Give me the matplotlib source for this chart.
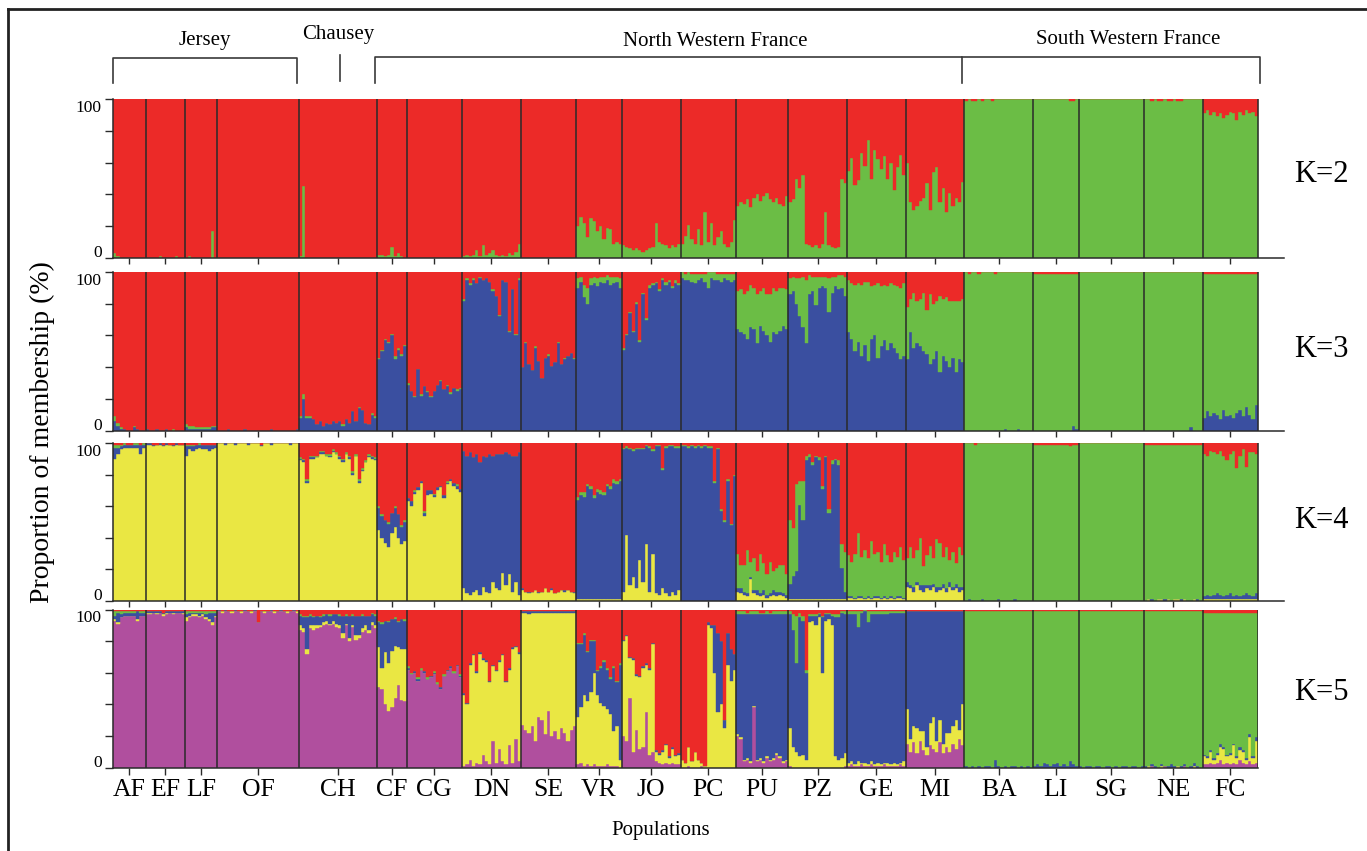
import matplotlib
matplotlib.use("Agg")
import matplotlib.pyplot as plt
import matplotlib.transforms as mtransforms
from matplotlib.lines import Line2D
import numpy as np

plt.rcParams['font.family'] = ['Liberation Serif', 'DejaVu Serif']

# populations, in plotting order, and number of individuals sampled
pops = ['AF', 'EF', 'LF', 'OF', 'CH', 'CF', 'CG', 'DN', 'SE', 'VR', 'JO',
        'PC', 'PU', 'PZ', 'GE', 'MI', 'BA', 'LI', 'SG', 'NE', 'FC']
pop_sizes = [10, 12, 10, 25, 24, 9, 17, 18, 17, 14, 18,
             17, 16, 18, 18, 18, 21, 14, 20, 18, 17]

regions = ['Jersey', 'Chausey', 'North Western France', 'South Western France']
k_labels = ['K=2', 'K=3', 'K=4', 'K=5']

# membership (%) per individual, one row per population.
# clusters listed bottom to top; the red cluster is the remainder to 100.

# ---- K=2 ----
k2_green = [
    [3, 1, 0, 0, 0, 0, 0, 0, 0, 0],  # AF
    [0, 0, 0, 0, 1, 0, 0, 0, 0, 1, 0, 0],  # EF
    [0, 1, 0, 0, 0, 0, 0, 0, 17, 0],  # LF
    [0, 0, 0, 0, 0, 0, 0, 0, 0, 0, 0, 0, 0, 0, 0, 0, 0, 0, 0, 0, 0, 0, 0, 0, 0],  # OF
    [1, 45, 0, 0, 0, 0, 0, 0, 0, 0, 0, 0, 0, 0, 0, 0, 0, 0, 0, 0, 0, 0, 0, 0],  # CH
    [2, 2, 1, 2, 7, 1, 3, 1, 0],  # CF
    [0, 0, 0, 0, 0, 0, 0, 0, 0, 0, 0, 0, 0, 0, 0, 0, 0],  # CG
    [1, 2, 1, 2, 5, 1, 8, 2, 3, 5, 2, 1, 2, 1, 3, 2, 4, 9],  # DN
    [0, 0, 0, 0, 0, 0, 0, 0, 0, 0, 0, 0, 0, 0, 0, 0, 0],  # SE
    [20, 26, 22, 13, 25, 23, 17, 20, 12, 19, 18, 9, 10, 9],  # VR
    [8, 7, 6, 5, 6, 5, 4, 5, 6, 7, 22, 10, 9, 8, 6, 8, 7, 9],  # JO
    [9, 14, 21, 12, 9, 18, 8, 29, 10, 22, 8, 13, 17, 9, 7, 10, 24],  # PC
    [33, 35, 34, 37, 32, 38, 40, 36, 39, 41, 37, 35, 38, 34, 33, 39],  # PU
    [35, 37, 50, 44, 52, 9, 8, 7, 8, 6, 9, 29, 8, 7, 6, 7, 50, 47],  # PZ
    [55, 63, 46, 49, 66, 58, 74, 50, 68, 62, 56, 64, 50, 60, 43, 57, 65, 52],  # GE
    [60, 35, 30, 33, 36, 38, 47, 30, 54, 57, 35, 44, 29, 41, 33, 38, 35, 48],  # MI
    [99, 100, 99, 99, 100, 99, 100, 100, 99, 100, 100, 100, 100, 100, 100, 100, 100, 100, 100, 100, 100],  # BA
    [100, 100, 100, 100, 100, 100, 100, 100, 100, 100, 100, 99, 99, 100],  # LI
    [100, 100, 100, 100, 100, 100, 100, 100, 100, 100, 100, 100, 100, 100, 100, 100, 100, 100, 100, 100],  # SG
    [100, 100, 99, 100, 99, 99, 100, 99, 99, 100, 99, 99, 100, 100, 100, 100, 100, 100],  # NE
    [91, 93, 90, 92, 89, 91, 88, 90, 92, 91, 87, 92, 90, 93, 91, 92, 89],  # FC
]

# ---- K=3 ----
k3_blue = [
    [6, 3, 1, 1, 0, 0, 2, 1, 0, 0],
    [1, 0, 0, 1, 0, 0, 1, 0, 0, 0, 0, 0],
    [2, 1, 1, 1, 1, 1, 1, 1, 2, 2],
    [0, 0, 0, 1, 0, 0, 0, 0, 1, 0, 0, 0, 0, 0, 0, 0, 1, 0, 0, 0, 0, 0, 0, 0, 1],
    [8, 20, 8, 8, 7, 4, 6, 3, 5, 4, 6, 5, 6, 3, 7, 5, 12, 6, 14, 13, 5, 4, 10, 8],
    [45, 50, 57, 55, 60, 45, 51, 47, 53],
    [29, 25, 21, 39, 22, 28, 24, 21, 25, 29, 31, 26, 28, 23, 27, 25, 26],
    [82, 95, 92, 95, 93, 96, 95, 96, 94, 88, 85, 72, 95, 94, 62, 89, 60, 95],
    [40, 55, 42, 38, 52, 44, 33, 46, 47, 41, 43, 55, 42, 45, 47, 49, 45],
    [90, 94, 84, 80, 92, 93, 91, 94, 93, 95, 92, 93, 94, 90],
    [51, 60, 74, 62, 80, 56, 86, 70, 90, 92, 93, 88, 95, 92, 94, 90, 93, 92],
    [96, 95, 95, 94, 93, 95, 96, 94, 90, 96, 95, 95, 94, 96, 95, 94, 95],
    [64, 62, 61, 58, 65, 64, 55, 66, 63, 60, 56, 62, 61, 63, 66, 64],
    [86, 88, 80, 72, 65, 55, 86, 88, 79, 90, 91, 90, 75, 87, 91, 89, 90, 85],
    [62, 58, 50, 56, 47, 54, 44, 58, 60, 46, 53, 57, 51, 55, 52, 49, 45, 47],
    [45, 62, 52, 55, 53, 50, 48, 42, 45, 50, 37, 47, 44, 40, 46, 37, 45, 43],
    [0, 0, 0, 0, 0, 0, 0, 0, 0, 0, 0, 0, 1, 0, 0, 0, 1, 0, 0, 0, 0],
    [0, 0, 0, 0, 0, 0, 0, 0, 0, 0, 0, 0, 3, 1],
    [0, 0, 0, 0, 0, 0, 0, 0, 0, 0, 0, 0, 0, 0, 0, 0, 0, 0, 0, 0],
    [0, 0, 0, 0, 0, 0, 0, 0, 0, 0, 0, 0, 0, 0, 2, 0, 0, 0],
    [8, 12, 9, 11, 10, 7, 13, 9, 10, 8, 11, 13, 9, 15, 10, 7, 16],
]
k3_green = [
    [3, 2, 1, 0, 0, 0, 1, 0, 0, 0],
    [0, 0, 0, 0, 0, 0, 0, 0, 1, 0, 0, 0],
    [2, 2, 2, 1, 1, 1, 1, 1, 1, 1],
    [0, 0, 0, 0, 0, 0, 0, 0, 0, 0, 0, 0, 0, 0, 0, 0, 0, 0, 0, 0, 0, 0, 0, 0, 0],
    [1, 3, 1, 1, 0, 0, 0, 0, 0, 0, 0, 0, 0, 1, 0, 0, 0, 0, 1, 0, 0, 0, 1, 1],
    [1, 1, 1, 1, 1, 2, 1, 1, 1],
    [1, 0, 1, 0, 1, 0, 1, 1, 0, 0, 1, 0, 1, 1, 0, 1, 1],
    [1, 1, 1, 1, 0, 1, 0, 0, 0, 1, 0, 1, 0, 0, 1, 0, 1, 1],
    [0, 1, 0, 0, 1, 0, 0, 0, 1, 0, 0, 1, 0, 1, 0, 0, 1],
    [6, 3, 8, 10, 4, 4, 5, 3, 4, 3, 5, 4, 3, 6],
    [1, 1, 1, 1, 1, 1, 1, 1, 2, 1, 1, 1, 1, 2, 1, 1, 2, 1],
    [4, 4, 5, 5, 6, 4, 3, 5, 10, 4, 5, 4, 5, 3, 4, 5, 4],
    [24, 27, 25, 30, 27, 26, 31, 22, 27, 26, 30, 28, 27, 27, 24, 25],
    [10, 9, 16, 24, 32, 40, 12, 9, 18, 7, 6, 7, 21, 10, 6, 9, 8, 12],
    [33, 35, 42, 37, 45, 40, 50, 33, 32, 47, 38, 35, 40, 38, 40, 42, 45, 46],
    [33, 21, 35, 27, 30, 37, 28, 44, 35, 32, 48, 36, 40, 42, 36, 45, 37, 40],
    [100, 99, 100, 100, 99, 100, 100, 100, 100, 99, 100, 100, 99, 100, 100, 100, 99, 100, 100, 100, 100],
    [99, 99, 99, 99, 99, 99, 99, 99, 99, 99, 99, 99, 96, 98],
    [100, 100, 100, 100, 100, 100, 100, 100, 100, 100, 100, 100, 100, 100, 100, 100, 100, 100, 100, 100],
    [100, 100, 100, 100, 100, 100, 100, 100, 100, 100, 100, 100, 100, 100, 98, 100, 100, 100],
    [91, 87, 90, 88, 89, 92, 86, 90, 89, 91, 88, 86, 90, 84, 89, 92, 83],
]

# ---- K=4 ----
k4_yellow = [
    [90, 93, 96, 97, 97, 97, 97, 97, 93, 97],
    [99, 99, 98, 99, 99, 98, 99, 99, 98, 99, 99, 99],
    [92, 96, 95, 96, 97, 96, 96, 95, 96, 97],
    [100, 100, 99, 100, 100, 99, 100, 100, 100, 99, 100, 100, 100, 98, 100, 100, 99, 100, 100, 100, 100, 100, 99, 100, 100],
    [89, 88, 75, 90, 90, 91, 93, 93, 92, 91, 94, 93, 90, 88, 93, 90, 80, 92, 75, 82, 88, 91, 90, 89],
    [45, 40, 37, 34, 43, 47, 40, 36, 38],
    [63, 60, 68, 70, 75, 54, 67, 68, 66, 70, 72, 65, 74, 76, 73, 71, 69],
    [8, 5, 4, 6, 7, 4, 9, 6, 5, 12, 8, 7, 18, 10, 17, 6, 12, 4],
    [7, 6, 5, 6, 7, 5, 6, 8, 6, 7, 5, 6, 7, 6, 7, 6, 5],
    [1, 1, 1, 1, 1, 1, 1, 1, 1, 1, 1, 1, 1, 1],
    [6, 42, 10, 15, 8, 26, 12, 36, 6, 30, 5, 4, 8, 5, 3, 6, 4, 7],
    [0, 0, 0, 0, 0, 0, 0, 0, 0, 0, 0, 0, 0, 0, 0, 0, 0],
    [6, 5, 4, 3, 14, 5, 4, 3, 4, 2, 3, 4, 3, 4, 3, 2],
    [1, 1, 1, 1, 1, 1, 1, 1, 1, 1, 1, 1, 1, 1, 1, 1, 1, 1],
    [2, 2, 1, 2, 2, 1, 2, 1, 2, 2, 1, 2, 1, 2, 1, 2, 2, 1],
    [9, 8, 6, 10, 7, 6, 8, 7, 9, 6, 7, 8, 6, 9, 7, 8, 6, 7],
    [0, 0, 0, 0, 0, 0, 0, 0, 0, 0, 0, 0, 0, 0, 0, 0, 0, 0, 0, 0, 0],
    [0, 0, 0, 0, 0, 0, 0, 0, 0, 0, 0, 0, 0, 0],
    [0, 0, 0, 0, 0, 0, 0, 0, 0, 0, 0, 0, 0, 0, 0, 0, 0, 0, 0, 0],
    [0, 1, 0, 0, 1, 1, 0, 1, 0, 1, 1, 0, 1, 0, 0, 1, 0, 0],
    [1, 1, 1, 1, 1, 1, 1, 1, 1, 1, 1, 1, 1, 1, 1, 1, 1],
]
k4_blue = [
    [7, 4, 2, 2, 2, 2, 2, 2, 6, 2],
    [1, 1, 1, 0, 1, 1, 1, 0, 1, 1, 0, 0],
    [6, 2, 3, 3, 2, 3, 3, 4, 3, 2],
    [0, 0, 1, 0, 0, 1, 0, 0, 0, 1, 0, 0, 0, 1, 0, 0, 1, 0, 0, 0, 0, 0, 1, 0, 0],
    [1, 1, 1, 1, 1, 0, 1, 1, 0, 1, 1, 0, 1, 1, 0, 1, 1, 0, 1, 1, 0, 1, 1, 1],
    [14, 14, 14, 15, 13, 12, 15, 11, 12],
    [2, 3, 1, 2, 1, 2, 3, 2, 1, 2, 1, 2, 1, 1, 2, 2, 2],
    [87, 87, 90, 85, 86, 84, 83, 85, 88, 80, 85, 86, 75, 84, 76, 86, 80, 90],
    [1, 0, 1, 0, 0, 1, 0, 0, 0, 1, 0, 0, 0, 1, 0, 0, 1],
    [63, 66, 65, 72, 70, 64, 68, 67, 66, 72, 70, 74, 73, 75],
    [90, 55, 86, 80, 88, 70, 84, 62, 91, 65, 93, 94, 75, 92, 95, 92, 93, 90],
    [98, 98, 97, 98, 97, 98, 97, 98, 97, 97, 75, 96, 57, 50, 76, 48, 79],
    [2, 3, 2, 2, 1, 2, 3, 2, 3, 2, 2, 3, 3, 2, 2, 2],
    [10, 15, 18, 60, 50, 88, 90, 85, 90, 88, 70, 90, 55, 86, 88, 85, 20, 5],
    [1, 1, 1, 1, 1, 1, 1, 1, 1, 1, 1, 1, 1, 1, 1, 1, 1, 1],
    [3, 2, 3, 2, 3, 4, 2, 3, 2, 3, 2, 3, 2, 3, 2, 3, 3, 2],
    [0, 1, 0, 0, 0, 1, 0, 0, 0, 0, 1, 0, 0, 0, 0, 1, 0, 0, 0, 0, 0],
    [0, 0, 0, 0, 0, 0, 0, 0, 0, 0, 0, 0, 0, 0],
    [0, 0, 0, 0, 0, 0, 0, 0, 0, 0, 0, 0, 0, 0, 0, 0, 0, 0, 0, 0],
    [0, 0, 1, 0, 0, 0, 1, 0, 0, 0, 0, 1, 0, 0, 0, 0, 1, 0],
    [2, 3, 2, 3, 4, 3, 2, 3, 4, 2, 3, 2, 3, 4, 3, 2, 4],
]
k4_green = [
    [2, 2, 1, 1, 0, 0, 1, 1, 0, 1],
    [0, 0, 0, 0, 0, 0, 0, 0, 0, 0, 0, 0],
    [1, 1, 1, 0, 1, 0, 0, 0, 0, 0],
    [0, 0, 0, 0, 0, 0, 0, 0, 0, 0, 0, 0, 0, 0, 0, 0, 0, 0, 0, 0, 0, 0, 0, 0, 0],
    [1, 1, 1, 1, 1, 1, 1, 1, 1, 1, 1, 1, 1, 1, 1, 1, 1, 1, 1, 1, 1, 1, 1, 1],
    [1, 1, 0, 1, 0, 1, 0, 1, 1],
    [0, 0, 1, 0, 0, 1, 0, 0, 1, 0, 0, 0, 1, 0, 0, 1, 0],
    [0, 0, 0, 0, 0, 0, 0, 0, 0, 0, 0, 0, 0, 0, 0, 0, 0, 0],
    [0, 0, 0, 0, 0, 0, 0, 0, 0, 0, 0, 0, 0, 0, 0, 0, 0],
    [2, 2, 3, 1, 2, 2, 2, 2, 2, 1, 2, 2, 2, 1],
    [1, 1, 1, 1, 1, 1, 1, 1, 1, 1, 1, 1, 1, 1, 1, 1, 1, 1],
    [1, 1, 1, 1, 1, 1, 1, 1, 1, 1, 1, 1, 1, 1, 1, 1, 1],
    [22, 15, 17, 27, 10, 20, 12, 25, 17, 13, 20, 12, 15, 17, 18, 13],
    [40, 30, 55, 15, 25, 3, 2, 2, 1, 2, 2, 1, 2, 2, 1, 3, 15, 25],
    [26, 22, 28, 40, 25, 30, 24, 36, 27, 28, 23, 33, 27, 22, 29, 25, 31, 24],
    [15, 24, 18, 20, 30, 12, 19, 25, 16, 30, 28, 17, 26, 14, 22, 13, 25, 20],
    [100, 99, 100, 99, 100, 99, 100, 100, 100, 100, 99, 100, 100, 100, 100, 99, 100, 100, 100, 100, 100],
    [99, 99, 99, 99, 99, 99, 99, 99, 99, 99, 99, 98, 99, 99],
    [100, 100, 100, 100, 100, 100, 100, 100, 100, 100, 100, 100, 100, 100, 100, 100, 100, 100, 100, 100],
    [99, 98, 98, 99, 98, 98, 98, 98, 99, 98, 98, 98, 98, 99, 99, 98, 98, 99],
    [90, 88, 92, 90, 88, 91, 89, 85, 88, 92, 80, 89, 92, 80, 90, 91, 88],
]

# ---- K=5 ----
k5_purple = [
    [93, 91, 95, 96, 96, 96, 96, 93, 96, 96],
    [97, 97, 98, 97, 98, 96, 97, 98, 97, 98, 98, 97],
    [93, 95, 96, 96, 95, 96, 94, 93, 90, 95],
    [99, 98, 99, 99, 98, 99, 99, 98, 99, 99, 98, 99, 92, 99, 98, 99, 99, 98, 99, 99, 99, 98, 99, 99, 98],
    [87, 86, 72, 88, 87, 88, 89, 90, 91, 90, 91, 89, 88, 82, 90, 80, 89, 81, 82, 86, 87, 85, 90, 88],
    [51, 50, 40, 36, 38, 44, 52, 43, 42],
    [62, 59, 60, 55, 62, 60, 56, 57, 59, 53, 50, 58, 61, 63, 60, 64, 57],
    [1, 2, 5, 1, 3, 2, 8, 4, 2, 17, 3, 12, 4, 2, 14, 3, 18, 4],
    [27, 24, 22, 26, 17, 32, 30, 21, 36, 20, 23, 18, 25, 22, 17, 24, 26],
    [2, 3, 1, 2, 1, 2, 1, 1, 1, 2, 1, 1, 1, 0],
    [20, 17, 44, 10, 24, 12, 13, 35, 8, 10, 4, 3, 2, 3, 2, 3, 2, 2],
    [0, 0, 1, 0, 0, 0, 1, 0, 0, 0, 0, 0, 0, 0, 0, 0, 0],
    [20, 18, 4, 5, 3, 38, 4, 5, 3, 6, 4, 5, 8, 6, 3, 4],
    [1, 0, 0, 0, 0, 0, 0, 0, 0, 0, 0, 0, 0, 0, 0, 0, 0, 1],
    [1, 2, 1, 1, 2, 1, 1, 2, 1, 1, 1, 2, 1, 1, 1, 1, 2, 1],
    [15, 10, 16, 9, 17, 11, 8, 14, 12, 10, 16, 9, 13, 10, 15, 12, 18, 14],
    [0, 0, 0, 0, 0, 0, 0, 0, 0, 0, 0, 0, 0, 0, 0, 0, 0, 0, 0, 0, 0],
    [0, 0, 0, 0, 0, 0, 0, 0, 0, 0, 0, 0, 0, 0],
    [0, 0, 0, 0, 0, 0, 0, 0, 0, 0, 0, 0, 0, 0, 0, 0, 0, 0, 0, 0],
    [0, 0, 1, 0, 0, 0, 1, 0, 0, 0, 0, 0, 1, 0, 0, 0, 0, 0],
    [2, 2, 3, 2, 3, 5, 2, 3, 2, 3, 2, 5, 3, 2, 4, 2, 3],
]
k5_yellow = [
    [1, 1, 0, 0, 0, 0, 0, 1, 0, 0],
    [1, 1, 0, 1, 0, 1, 1, 0, 1, 0, 0, 1],
    [2, 1, 1, 1, 1, 1, 1, 1, 2, 1],
    [0, 1, 0, 0, 1, 0, 0, 1, 0, 0, 1, 0, 0, 0, 1, 0, 0, 1, 0, 0, 0, 1, 0, 0, 1],
    [3, 2, 3, 2, 3, 2, 1, 2, 2, 1, 2, 2, 2, 3, 1, 2, 1, 3, 2, 2, 3, 2, 2, 2],
    [25, 13, 33, 30, 36, 33, 24, 32, 33],
    [0, 0, 0, 0, 0, 0, 0, 0, 0, 0, 0, 0, 0, 0, 0, 0, 0],
    [45, 38, 60, 70, 57, 70, 60, 63, 52, 47, 58, 55, 67, 52, 48, 72, 58, 68],
    [71, 74, 75, 72, 81, 66, 68, 77, 62, 78, 75, 80, 73, 76, 81, 74, 72],
    [30, 35, 45, 40, 47, 58, 45, 40, 38, 35, 33, 22, 25, 5],
    [60, 66, 25, 58, 34, 45, 50, 30, 54, 68, 6, 5, 8, 11, 4, 9, 5, 6],
    [5, 3, 12, 4, 10, 5, 2, 1, 90, 88, 60, 35, 40, 25, 65, 55, 62],
    [1, 1, 1, 1, 1, 1, 1, 1, 1, 1, 1, 1, 1, 1, 1, 1],
    [24, 13, 10, 7, 8, 5, 92, 93, 90, 95, 60, 93, 94, 90, 7, 5, 6, 8],
    [2, 2, 1, 3, 1, 2, 1, 2, 1, 2, 1, 1, 2, 1, 2, 1, 1, 3],
    [22, 8, 10, 16, 6, 12, 5, 14, 20, 7, 14, 6, 9, 12, 11, 18, 6, 26],
    [0, 0, 0, 0, 0, 0, 0, 0, 0, 0, 0, 0, 0, 0, 0, 0, 0, 0, 0, 0, 0],
    [0, 0, 0, 0, 0, 0, 0, 0, 0, 0, 0, 0, 0, 0],
    [0, 0, 0, 0, 0, 0, 0, 0, 0, 0, 0, 0, 0, 0, 0, 0, 0, 0, 0, 0],
    [0, 1, 0, 0, 0, 1, 0, 0, 0, 0, 1, 0, 0, 0, 0, 1, 0, 0],
    [5, 4, 7, 3, 5, 8, 10, 4, 6, 11, 4, 6, 7, 3, 15, 4, 14],
]
k5_blue = [
    [2, 6, 2, 2, 2, 2, 2, 5, 2, 2],
    [1, 1, 1, 1, 1, 1, 1, 1, 1, 1, 1, 1],
    [2, 2, 1, 1, 2, 1, 2, 4, 6, 2],
    [1, 0, 1, 0, 0, 1, 0, 0, 1, 0, 0, 1, 0, 0, 0, 0, 1, 0, 0, 1, 0, 0, 0, 1, 0],
    [6, 7, 20, 6, 5, 6, 5, 4, 4, 5, 4, 6, 6, 11, 5, 14, 6, 12, 12, 8, 6, 9, 5, 6],
    [16, 28, 20, 26, 20, 17, 16, 19, 18],
    [1, 0, 1, 1, 0, 1, 0, 1, 1, 0, 1, 0, 1, 1, 0, 1, 1],
    [1, 1, 1, 1, 1, 1, 1, 1, 1, 1, 1, 1, 1, 1, 1, 1, 1, 1],
    [1, 1, 2, 1, 1, 1, 1, 1, 1, 1, 1, 1, 1, 1, 1, 1, 1],
    [46, 40, 38, 31, 32, 20, 15, 22, 28, 25, 22, 40, 28, 60],
    [1, 1, 1, 1, 1, 1, 1, 1, 1, 1, 1, 1, 1, 1, 1, 1, 1, 1],
    [0, 0, 0, 0, 0, 0, 0, 0, 2, 2, 30, 50, 40, 5, 20, 20, 10],
    [76, 78, 92, 91, 93, 58, 92, 91, 93, 90, 92, 91, 88, 90, 93, 92],
    [72, 74, 56, 88, 85, 55, 4, 3, 6, 2, 35, 4, 3, 6, 88, 90, 92, 88],
    [94, 93, 95, 85, 95, 96, 90, 93, 95, 94, 95, 94, 94, 96, 95, 96, 95, 94],
    [62, 81, 73, 74, 76, 76, 86, 71, 67, 82, 69, 84, 77, 77, 73, 69, 75, 59],
    [1, 0, 1, 0, 1, 0, 1, 1, 0, 5, 1, 0, 1, 0, 1, 1, 0, 1, 0, 1, 0],
    [1, 2, 1, 3, 2, 1, 2, 3, 1, 2, 1, 4, 2, 1],
    [1, 0, 1, 1, 0, 1, 1, 0, 1, 1, 0, 1, 0, 1, 1, 0, 1, 1, 0, 1],
    [1, 0, 1, 1, 0, 1, 0, 1, 2, 1, 0, 1, 1, 0, 1, 2, 1, 0],
    [1, 1, 1, 1, 1, 2, 1, 1, 1, 1, 1, 2, 1, 1, 2, 1, 2],
]
k5_green = [
    [3, 1, 2, 1, 1, 1, 1, 0, 1, 1],
    [0, 0, 0, 0, 0, 0, 0, 0, 0, 0, 0, 0],
    [2, 1, 1, 1, 1, 1, 2, 1, 1, 1],
    [0, 0, 0, 0, 0, 0, 0, 0, 0, 0, 0, 0, 0, 0, 0, 0, 0, 0, 0, 0, 0, 0, 0, 0, 0],
    [1, 1, 1, 1, 1, 0, 1, 1, 0, 1, 0, 0, 1, 0, 1, 0, 1, 0, 0, 1, 0, 0, 1, 1],
    [1, 1, 0, 1, 0, 1, 1, 0, 1],
    [1, 1, 0, 1, 1, 0, 1, 0, 1, 1, 0, 1, 0, 0, 1, 0, 1],
    [0, 0, 0, 0, 0, 0, 0, 0, 0, 0, 0, 0, 0, 0, 0, 0, 0, 0],
    [0, 0, 0, 0, 0, 0, 0, 0, 0, 0, 0, 0, 0, 0, 0, 0, 0],
    [1, 1, 1, 1, 1, 1, 1, 1, 1, 1, 1, 1, 1, 1],
    [0, 0, 0, 0, 0, 0, 0, 0, 0, 0, 0, 0, 0, 0, 0, 0, 0, 0],
    [0, 0, 0, 0, 0, 0, 0, 0, 0, 0, 0, 0, 0, 0, 0, 0, 0],
    [2, 2, 2, 1, 2, 2, 2, 1, 1, 2, 1, 2, 2, 2, 2, 2],
    [2, 10, 30, 3, 3, 2, 1, 1, 1, 1, 1, 1, 1, 1, 2, 2, 1, 2],
    [2, 2, 2, 10, 1, 1, 7, 2, 2, 2, 2, 2, 2, 1, 1, 1, 1, 1],
    [0, 0, 0, 0, 0, 0, 0, 0, 0, 0, 0, 0, 0, 0, 0, 0, 0, 0],
    [98, 99, 98, 99, 98, 99, 98, 98, 99, 94, 98, 99, 98, 99, 98, 98, 99, 98, 99, 98, 99],
    [98, 97, 98, 96, 97, 98, 97, 96, 98, 97, 98, 95, 97, 98],
    [98, 99, 98, 98, 99, 98, 98, 99, 98, 98, 99, 98, 99, 98, 98, 99, 98, 98, 99, 98],
    [98, 98, 97, 98, 99, 97, 98, 98, 97, 98, 98, 98, 97, 99, 98, 96, 98, 99],
    [90, 91, 87, 92, 89, 83, 85, 90, 89, 83, 91, 85, 87, 92, 77, 91, 79],
]

RED = '#EC2A28'
GREEN = '#6BBD45'
BLUE = '#3A4FA0'
YELLOW = '#EAE743'
PURPLE = '#B04F9E'
LINE = '#2a2a2a'

panels = [
    ([k2_green], [GREEN]),
    ([k3_blue, k3_green], [BLUE, GREEN]),
    ([k4_yellow, k4_blue, k4_green], [YELLOW, BLUE, GREEN]),
    ([k5_purple, k5_yellow, k5_blue, k5_green], [PURPLE, YELLOW, BLUE, GREEN]),
]

W, H = 1367, 851
fig = plt.figure(figsize=(W / 100, H / 100), dpi=100)
fig.patch.set_facecolor('white')

total = sum(pop_sizes)
edges = np.concatenate([[0], np.cumsum(pop_sizes)])
centers = (edges[:-1] + edges[1:]) / 2

x_left, x_data_right, x_axis_right = 113, 1258, 1284
panel_px = [(99, 258), (272, 430.5), (443, 601), (609.5, 767.5)]
label_y = [174, 350, 520, 693]


def draw_structure(ax, layers, colors):
    for p, n in enumerate(pop_sizes):
        cols = [np.asarray(layer[p], dtype=float) for layer in layers]
        m = min(len(c) for c in cols)
        w = n / m
        xs = edges[p] + w * (np.arange(m) + 0.5)
        bottom = np.zeros(m)
        for vals, c in zip(cols, colors):
            ax.bar(xs, vals[:m], width=w, bottom=bottom, color=c,
                   edgecolor=c, linewidth=0.3)
            bottom += vals[:m]
        ax.bar(xs, 100 - bottom, width=w, bottom=bottom, color=RED,
               edgecolor=RED, linewidth=0.3)


for i, ((layers, colors), (top, bot)) in enumerate(zip(panels, panel_px)):
    last = i == len(panels) - 1
    right_px = x_data_right if last else x_axis_right
    ax = fig.add_axes([x_left / W, 1 - bot / H, (right_px - x_left) / W, (bot - top) / H])
    draw_structure(ax, layers, colors)
    for b in edges[1:]:
        ax.axvline(b, color=LINE, lw=1.1, zorder=5)
    ax.set_xlim(0, total * (right_px - x_left) / (x_data_right - x_left))
    ax.set_ylim(0, 100)
    for s in ['top', 'right']:
        ax.spines[s].set_visible(False)
    for s in ['left', 'bottom']:
        ax.spines[s].set_color(LINE)
        ax.spines[s].set_linewidth(1.1)
        ax.spines[s].set_zorder(6)
    ax.set_yticks([0, 20, 40, 60, 80, 100])
    ax.set_yticklabels(['0', '', '', '', '', '100'], fontsize=12.5)
    ax.tick_params(axis='y', length=6, width=1, color=LINE, pad=2)
    # nudge the end labels inward so stacked panels don't collide
    ylabels = ax.get_yticklabels()
    ylabels[0].set_transform(ylabels[0].get_transform() +
                             mtransforms.ScaledTranslation(0, 5 / 72, fig.dpi_scale_trans))
    ylabels[-1].set_transform(ylabels[-1].get_transform() +
                              mtransforms.ScaledTranslation(0, -5 / 72, fig.dpi_scale_trans))
    ax.set_xticks(centers)
    if last:
        ax.set_xticklabels(pops, fontsize=18.5)
        ax.tick_params(axis='x', length=5, width=1, color=LINE, pad=3)
    else:
        ax.set_xticklabels([])
        ax.tick_params(axis='x', length=4, width=1, color=LINE)
    fig.text(1321 / W, 1 - label_y[i] / H, k_labels[i], fontsize=22,
             ha='center', va='center')

fig.text(42 / W, 1 - 432 / H, 'Proportion of membership (%)', rotation=90,
         fontsize=20, ha='center', va='center')
fig.text(661 / W, 1 - 831 / H, 'Populations', fontsize=15,
         ha='center', va='center')


def fig_line(xs, ys, **kw):
    fig.add_artist(Line2D([x / W for x in xs], [1 - y / H for y in ys],
                          transform=fig.transFigure, **kw))


# region brackets along the top
bk = dict(color='#3a3a3a', lw=1.2)
fig_line([113, 113, 297, 297], [83, 58, 58, 83], **bk)
fig_line([340, 340], [55, 81], **bk)
fig_line([375, 375, 962, 962], [83, 57, 57, 83], **bk)
fig_line([962, 1260, 1260], [57, 57, 83], **bk)
fig.text(205 / W, 1 - 40 / H, regions[0], fontsize=15, ha='center', va='center')
fig.text(338 / W, 1 - 35 / H, regions[1], fontsize=15, ha='center', va='center')
fig.text(715 / W, 1 - 41 / H, regions[2], fontsize=15, ha='center', va='center')
fig.text(1128 / W, 1 - 40 / H, regions[3], fontsize=15, ha='center', va='center')

# frame on the top and left edges
fig_line([8, W], [9, 9], color='#222222', lw=2)
fig_line([8, 8], [9, H], color='#222222', lw=2)

fig.savefig('out.png', dpi=100, facecolor='white')
